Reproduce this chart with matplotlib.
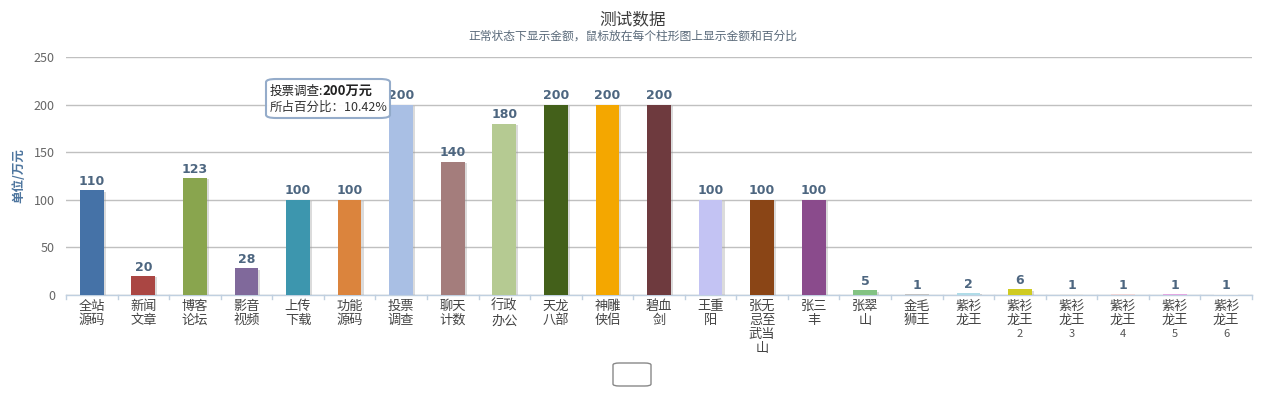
import matplotlib
matplotlib.use("Agg")
import matplotlib.pyplot as plt
import matplotlib.patheffects as pe
from matplotlib.patches import FancyBboxPatch

plt.rcParams['font.family'] = ['Noto Sans CJK SC', 'DejaVu Sans']

categories = ["全站\n源码", "新闻\n文章", "博客\n论坛", "影音\n视频", "上传\n下载", "功能\n源码",
              "投票\n调查", "聊天\n计数", "行政\n办公", "天龙\n八部", "神雕\n侠侣", "碧血\n剑",
              "王重\n阳", "张无\n忌至\n武当\n山", "张三\n丰", "张翠\n山", "金毛\n狮王", "紫衫\n龙王",
              "紫衫\n龙王\n2", "紫衫\n龙王\n3", "紫衫\n龙王\n4", "紫衫\n龙王\n5", "紫衫\n龙王\n6"]
values = [110, 20, 123, 28, 100, 100, 200, 140, 180, 200, 200, 200, 100, 100, 100, 5, 1, 2, 6, 1, 1, 1, 1]
colors = ["#4572A7", "#AA4643", "#89A54E", "#80699B", "#3D96AE", "#DB843D", "#A9BFE4", "#A47D7C",
          "#B5CA92", "#43601A", "#F4A700", "#6E3A3E", "#C3C3F3", "#8A4516", "#8A4B8C", "#83C383",
          "#C4C4C4", "#B0DCE8", "#CFCB22", "#E6E6E6", "#F0D6D6", "#E3A8E3", "#F2F2F2"]
yticks = [0, 50, 100, 150, 200, 250]

W, H = 1266, 399
fig = plt.figure(figsize=(W / 100, H / 100), dpi=100)
ax = fig.add_axes([66 / W, 1 - 295 / H, (1252 - 66) / W, (295 - 57) / H])

x = list(range(len(values)))
bars = ax.bar(x, values, width=0.46, color=colors, linewidth=0, zorder=3)
for b in bars:
    b.set_path_effects([pe.SimplePatchShadow(offset=(1.5, -1), shadow_rgbFace="#999999", alpha=0.35), pe.Normal()])

for xi, v in zip(x, values):
    ax.text(xi, v + 2.5, str(v), ha="center", va="bottom", fontsize=9, fontweight="bold",
            color="#4d6680", family=["DejaVu Sans"], zorder=4)

ax.set_xlim(-0.5, len(values) - 0.5)
ax.set_ylim(0, 250)
ax.set_yticks(yticks)
ax.set_yticklabels([str(t) for t in yticks], fontsize=9, color="#666666")
ax.yaxis.grid(True, color="#c0c0c0", linewidth=1, zorder=0)
ax.tick_params(axis="y", length=0, pad=8)

# x labels: Chinese lines as tick labels, trailing numbers smaller
main_labels, extra = [], []
for c in categories:
    parts = c.split("\n")
    if parts[-1].isdigit():
        main_labels.append("\n".join(parts[:-1]))
        extra.append(parts[-1])
    else:
        main_labels.append(c)
        extra.append(None)
ax.set_xticks(x)
ax.set_xticklabels(main_labels, fontsize=9.5, color="#444444", linespacing=1.12)
ax.tick_params(axis="x", length=0, pad=3.5)
for xi, e in zip(x, extra):
    if e:
        ax.annotate(e, xy=(xi, 0), xycoords=("data", "axes fraction"), xytext=(0, -28),
                    textcoords="offset points", ha="center", va="center", fontsize=8, color="#555555")
# category boundary ticks
for b in range(len(values) + 1):
    ax.plot([b - 0.5, b - 0.5], [0, -4], color="#c0d0e0", linewidth=1, clip_on=False, zorder=2)

for s in ["top", "right", "left"]:
    ax.spines[s].set_visible(False)
ax.spines["bottom"].set_color("#c0d0e0")
ax.spines["bottom"].set_linewidth(1)

ax.set_ylabel("单位/万元", fontsize=9, color="#4d759e", fontweight="bold", labelpad=6)

fig.text(0.5, 1 - 20 / H, "测试数据", ha="center", va="center", fontsize=12, color="#3c3c3c")
fig.text(0.5, 1 - 36 / H, "正常状态下显示金额，鼠标放在每个柱形图上显示金额和百分比", ha="center", va="center",
         fontsize=8.5, color="#5a6a7a")

# tooltip
tip = FancyBboxPatch((266 / W, 1 - 118 / H), 124 / W, 39 / H, boxstyle="round,pad=0,rounding_size=0.008",
                     transform=fig.transFigure, facecolor="white", edgecolor="#8fa8c8", linewidth=1.5,
                     zorder=10, alpha=0.95)
fig.patches.append(tip)
fig.text(270 / W, 1 - 91 / H, "投票调查:", ha="left", va="center", fontsize=9, color="#222222", zorder=11)
fig.text(322 / W, 1 - 91 / H, "200万元", ha="left", va="center", fontsize=9.5, fontweight="bold", color="#222222", zorder=11)
fig.text(270 / W, 1 - 107 / H, "所占百分比：10.42%", ha="left", va="center", fontsize=9, color="#333333", zorder=11)

# small button
btn = FancyBboxPatch((613 / W, 1 - 386 / H), 38 / W, 23 / H, boxstyle="round,pad=0,rounding_size=0.005",
                     transform=fig.transFigure, facecolor="white", edgecolor="#888888", linewidth=1)
fig.patches.append(btn)

fig.savefig("out.png", dpi=100)
